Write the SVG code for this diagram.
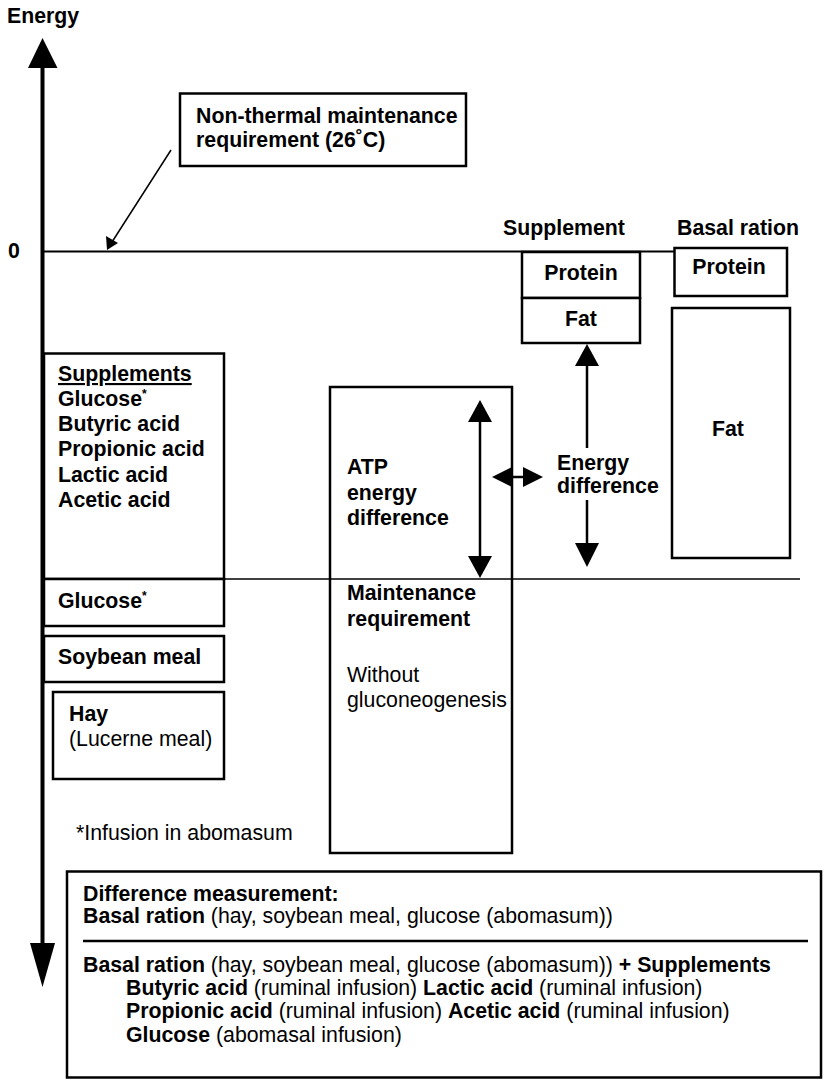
<svg xmlns="http://www.w3.org/2000/svg" width="824" height="1080" viewBox="0 0 824 1080">
<style>
text{font-family:"Liberation Sans",Arial,Helvetica,sans-serif;font-size:21.3px;fill:#000}
.b{font-weight:bold}
.r{font-weight:normal}
.box{fill:#fff;stroke:#000;stroke-width:2.5}
.open{fill:none}
.mid{text-anchor:middle}
.sup{font-size:12px}
</style>
<rect width="824" height="1080" fill="#fff"/>
<g id="axis">
<line x1="42.5" y1="66" x2="42.5" y2="945" stroke="#000" stroke-width="4"/>
<polygon points="42.5,38 28,68 57.5,68" fill="#000"/>
<polygon points="30,943 55,943 42.5,987" fill="#000"/>
<text class="b" x="7" y="23">Energy</text>
<text class="b" x="8" y="258">0</text>
</g>
<g id="lines">
<line x1="42" y1="251.5" x2="676" y2="251.5" stroke="#000" stroke-width="2"/>
<line x1="44" y1="579" x2="800" y2="579" stroke="#000" stroke-width="1.5"/>
</g>
<g id="nonthermal">
<rect class="box" x="180" y="93.5" width="286" height="72.5"/>
<text class="b" x="196" y="123">Non-thermal maintenance</text>
<text class="b" x="196" y="147">requirement (26˚C)</text>
</g>
<g id="supplement-label"><text class="b mid" x="564" y="235">Supplement</text></g>
<g id="basal-label"><text class="b" x="677" y="235">Basal ration</text></g>
<g id="supp-protein">
<rect class="box" x="522" y="252" width="118" height="46"/>
<text class="b mid" x="581" y="280">Protein</text>
</g>
<g id="supp-fat">
<rect class="box" x="522" y="298" width="118" height="45"/>
<text class="b mid" x="581" y="326">Fat</text>
</g>
<g id="basal-protein">
<rect class="box" x="674.5" y="248" width="112.5" height="48"/>
<text class="b mid" x="729" y="274">Protein</text>
</g>
<g id="basal-fat">
<rect class="box" x="672" y="308" width="118" height="250"/>
<text class="b mid" x="728" y="436">Fat</text>
</g>
<g id="supplements">
<rect class="box open" x="44" y="353.5" width="180" height="225.5" stroke-width="3"/>
<text class="b" x="58" y="381" text-decoration="underline">Supplements</text>
<text class="b" x="58" y="406">Glucose<tspan class="sup" dy="-8">*</tspan></text>
<text class="b" x="58" y="431">Butyric acid</text>
<text class="b" x="58" y="456">Propionic acid</text>
<text class="b" x="58" y="482">Lactic acid</text>
<text class="b" x="58" y="507">Acetic acid</text>
</g>
<g id="glucose">
<rect class="box" x="44" y="579" width="180" height="47" stroke-width="3"/>
<text class="b" x="58" y="608">Glucose<tspan class="sup" dy="-8">*</tspan></text>
</g>
<g id="soybean">
<rect class="box" x="44" y="636" width="180" height="46" stroke-width="3"/>
<text class="b" x="58" y="664">Soybean meal</text>
</g>
<g id="hay">
<rect class="box" x="53" y="692" width="171" height="87" stroke-width="3"/>
<text class="b" x="69" y="721">Hay</text>
<text class="r" x="69" y="746">(Lucerne meal)</text>
</g>
<g id="maintenance">
<rect class="box open" x="330" y="387" width="182" height="466"/>
<text class="b" x="347" y="474">ATP</text>
<text class="b" x="347" y="500">energy</text>
<text class="b" x="347" y="525">difference</text>
<text class="b" x="347" y="600">Maintenance</text>
<text class="b" x="347" y="626">requirement</text>
<text class="r" x="347" y="682">Without</text>
<text class="r" x="347" y="707">gluconeogenesis</text>
</g>
<g id="energy-diff-label">
<text class="b" x="557" y="470">Energy</text>
<text class="b" x="557" y="493">difference</text>
</g>
<g id="footnote"><text class="r" x="76" y="840">*Infusion in abomasum</text></g>
<g id="connectors" stroke="#000" fill="#000">
<line x1="171" y1="150" x2="112" y2="242" stroke-width="1.5"/>
<polygon points="107,250 106,236 118,243" stroke="none"/>
<line x1="480" y1="420" x2="480" y2="558" stroke-width="2.5"/>
<polygon points="480,400 468,422 492,422" stroke="none"/>
<polygon points="480,578 468,556 492,556" stroke="none"/>
<line x1="587" y1="364" x2="587" y2="448" stroke-width="2.5"/>
<line x1="587" y1="500" x2="587" y2="545" stroke-width="2.5"/>
<polygon points="587,344 575,366 599,366" stroke="none"/>
<polygon points="587,567 575,543 599,543" stroke="none"/>
<line x1="510" y1="477" x2="525" y2="477" stroke-width="2.5"/>
<polygon points="492,477 512,467 512,487" stroke="none"/>
<polygon points="543,477 523,467 523,487" stroke="none"/>
</g>
<g id="difference-box">
<rect x="67" y="871.5" width="754" height="206" fill="#fff" stroke="#000" stroke-width="2.5"/>
<text class="b" x="83" y="901">Difference measurement:</text>
<text x="83" y="923"><tspan class="b">Basal ration</tspan> (hay, soybean meal, glucose (abomasum))</text>
<line x1="83" y1="941" x2="808" y2="941" stroke="#000" stroke-width="2.5"/>
<text x="83" y="972"><tspan class="b">Basal ration</tspan> (hay, soybean meal, glucose (abomasum)) <tspan class="b">+ Supplements</tspan></text>
<text x="126" y="995"><tspan class="b">Butyric acid</tspan> (ruminal infusion) <tspan class="b">Lactic acid</tspan> (ruminal infusion)</text>
<text x="126" y="1018"><tspan class="b">Propionic acid</tspan> (ruminal infusion) <tspan class="b">Acetic acid</tspan> (ruminal infusion)</text>
<text x="126" y="1042"><tspan class="b">Glucose</tspan> (abomasal infusion)</text>
</g>
</svg>
